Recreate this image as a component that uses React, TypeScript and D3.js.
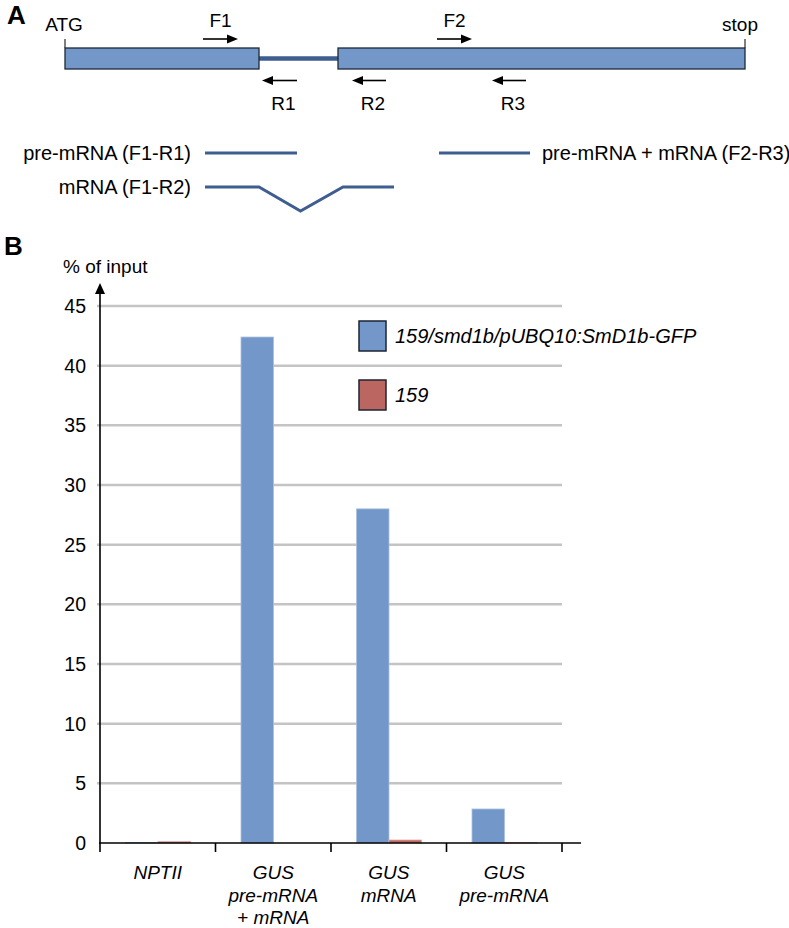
import React from 'react';
import * as d3 from 'd3';

// panel B data
const categories = [['NPTII'], ['GUS', 'pre-mRNA', '+ mRNA'], ['GUS', 'mRNA'], ['GUS', 'pre-mRNA']];
const seriesNames = ['159/smd1b/pUBQ10:SmD1b-GFP', '159'];
const smd1bGfp = [0.05, 42.4, 28.0, 2.85];
const line159 = [0.12, 0.0, 0.25, 0.02];
const yTicks = [0, 5, 10, 15, 20, 25, 30, 35, 40, 45];

// panel A gene model (schematic units)
const geneLength = 680;
const exons = [[0, 194], [273, 680]];
const intron = [194, 273];
const fwdPrimers = [{ name: 'F1', start: 138, end: 173 }, { name: 'F2', start: 372, end: 407 }];
const revPrimers = [{ name: 'R1', start: 197, end: 232 }, { name: 'R2', start: 287, end: 321 }, { name: 'R3', start: 427, end: 461 }];
const amplicons = [
  { label: 'pre-mRNA (F1-R1)', side: 'left', row: 0, pts: [[140, 0], [232, 0]] },
  { label: 'pre-mRNA + mRNA (F2-R3)', side: 'right', row: 0, pts: [[374, 0], [465, 0]] },
  { label: 'mRNA (F1-R2)', side: 'left', row: 1, pts: [[140, 0], [194, 0], [235.5, 1], [278, 0], [329, 0]] },
];

const BLUE = '#7397c9';
const RED = '#bb6660';
const LINE = '#3f5e90';
const FONT = '"Liberation Sans", Arial, sans-serif';

const Arrow = ({ x1, x2, y }: { x1: number; x2: number; y: number }) => {
  const dir = Math.sign(x2 - x1);
  return (
    <g>
      <line x1={x1} x2={x2 - dir * 8} y1={y} y2={y} stroke="#000" strokeWidth={1.6} />
      <path d={`M${x2},${y} L${x2 - dir * 11},${y - 4.5} L${x2 - dir * 11},${y + 4.5} Z`} fill="#000" />
    </g>
  );
};

const App = () => {
  const W = 789;
  const H = 928;

  // --- panel A scales
  const gx = d3.scaleLinear().domain([0, geneLength]).range([65, 745]);
  const rowY = [153, 187];
  const dipY = d3.scaleLinear().domain([0, 1]).range([0, 24]);
  const ampLine = d3.line<number[]>().x(d => gx(d[0])).y(d => dipY(d[1]));

  // --- panel B scales
  const x0 = d3.scaleBand<number>().domain(d3.range(categories.length)).range([100, 562]).paddingInner(0).paddingOuter(0);
  const x1 = d3.scaleBand<number>().domain([0, 1]).range([25.5, x0.bandwidth() - 25]).padding(0);
  const y = d3.scaleLinear().domain([0, 45]).range([843, 306]);
  const series = [smd1bGfp, line159];
  const colors = [BLUE, RED];

  return (
    <svg width={W} height={H} style={{ position: 'absolute', left: 0, top: 0, background: '#fff' }} fontFamily={FONT}>
      {/* ===== Panel A ===== */}
      <text x={7} y={24} fontSize={26} fontWeight="bold">A</text>
      <text x={64} y={31} fontSize={19} textAnchor="middle">ATG</text>
      <text x={740} y={31} fontSize={19} textAnchor="middle">stop</text>
      <line x1={gx(0)} x2={gx(0)} y1={39} y2={48} stroke="#000" strokeWidth={1} />
      <line x1={gx(geneLength)} x2={gx(geneLength)} y1={39} y2={48} stroke="#000" strokeWidth={1} />
      <line x1={gx(intron[0])} x2={gx(intron[1])} y1={58.5} y2={58.5} stroke={LINE} strokeWidth={4.5} />
      {exons.map((e, i) => (
        <rect key={i} x={gx(e[0])} y={48} width={gx(e[1]) - gx(e[0])} height={21} fill={BLUE} stroke="#1c2838" strokeWidth={1.3} />
      ))}
      {fwdPrimers.map(p => (
        <g key={p.name}>
          <Arrow x1={gx(p.start)} x2={gx(p.end)} y={39} />
          <text x={(gx(p.start) + gx(p.end)) / 2} y={27} fontSize={19} textAnchor="middle">{p.name}</text>
        </g>
      ))}
      {revPrimers.map(p => (
        <g key={p.name}>
          <Arrow x1={gx(p.end)} x2={gx(p.start)} y={80.5} />
          <text x={(gx(p.start) + gx(p.end)) / 2 + 4} y={110} fontSize={19} textAnchor="middle">{p.name}</text>
        </g>
      ))}
      {amplicons.map((a, i) => {
        const yy = rowY[a.row];
        const xs = a.pts.map(p => gx(p[0]));
        return (
          <g key={i}>
            <path d={ampLine(a.pts) as string} transform={`translate(0,${yy})`} fill="none" stroke={LINE} strokeWidth={3} />
            <text
              x={a.side === 'left' ? 191 : (d3.max(xs) as number) + 12}
              y={yy + 7}
              fontSize={20}
              textAnchor={a.side === 'left' ? 'end' : 'start'}
            >{a.label}</text>
          </g>
        );
      })}

      {/* ===== Panel B ===== */}
      <text x={4} y={255} fontSize={26} fontWeight="bold">B</text>
      <text x={63} y={273} fontSize={19}>% of input</text>

      {yTicks.filter(t => t > 0).map(t => (
        <line key={t} x1={97} x2={562} y1={y(t)} y2={y(t)} stroke="#c4c4c4" strokeWidth={2.5} />
      ))}
      {yTicks.map(t => (
        <text key={t} x={86} y={y(t) + 7} fontSize={19.5} textAnchor="end">{t}</text>
      ))}

      {categories.map((c, ci) => (
        <g key={ci} transform={`translate(${x0(ci)},0)`}>
          {series.map((s, si) => (
            <rect
              key={si}
              x={x1(si)}
              y={y(s[ci])}
              width={x1.bandwidth()}
              height={y(0) - y(s[ci])}
              fill={colors[si]}
              stroke={si === 0 ? '#a9c0e0' : '#e0a9a5'}
              strokeWidth={0.8}
            />
          ))}
        </g>
      ))}

      {/* axes */}
      <line x1={100} x2={100} y1={843} y2={293} stroke="#000" strokeWidth={1.6} />
      <path d="M100,283 L95,294 L105,294 Z" fill="#000" />
      <line x1={99} x2={581} y1={843} y2={843} stroke="#000" strokeWidth={1.6} />
      {d3.range(categories.length + 1).map(i => {
        const tx = i < categories.length ? (x0(i) as number) : 562;
        return <line key={i} x1={tx} x2={tx} y1={843} y2={852} stroke="#000" strokeWidth={1.6} />;
      })}
      {categories.map((c, ci) => (
        <text key={ci} x={(x0(ci) as number) + x0.bandwidth() / 2} y={879} fontSize={19} fontStyle="italic" textAnchor="middle">
          {c.map((l, li) => (
            <tspan key={li} x={(x0(ci) as number) + x0.bandwidth() / 2} dy={li === 0 ? 0 : 22.5}>{l}</tspan>
          ))}
        </text>
      ))}

      {/* legend */}
      {seriesNames.map((n, i) => (
        <g key={n} transform={`translate(359,${321 + i * 59})`}>
          <rect x={0} y={0} width={27} height={30} fill={colors[i]} stroke="#1c2433" strokeWidth={1.5} />
          <text x={36} y={22} fontSize={20} fontStyle="italic">{n}</text>
        </g>
      ))}
    </svg>
  );
};

export default App;
